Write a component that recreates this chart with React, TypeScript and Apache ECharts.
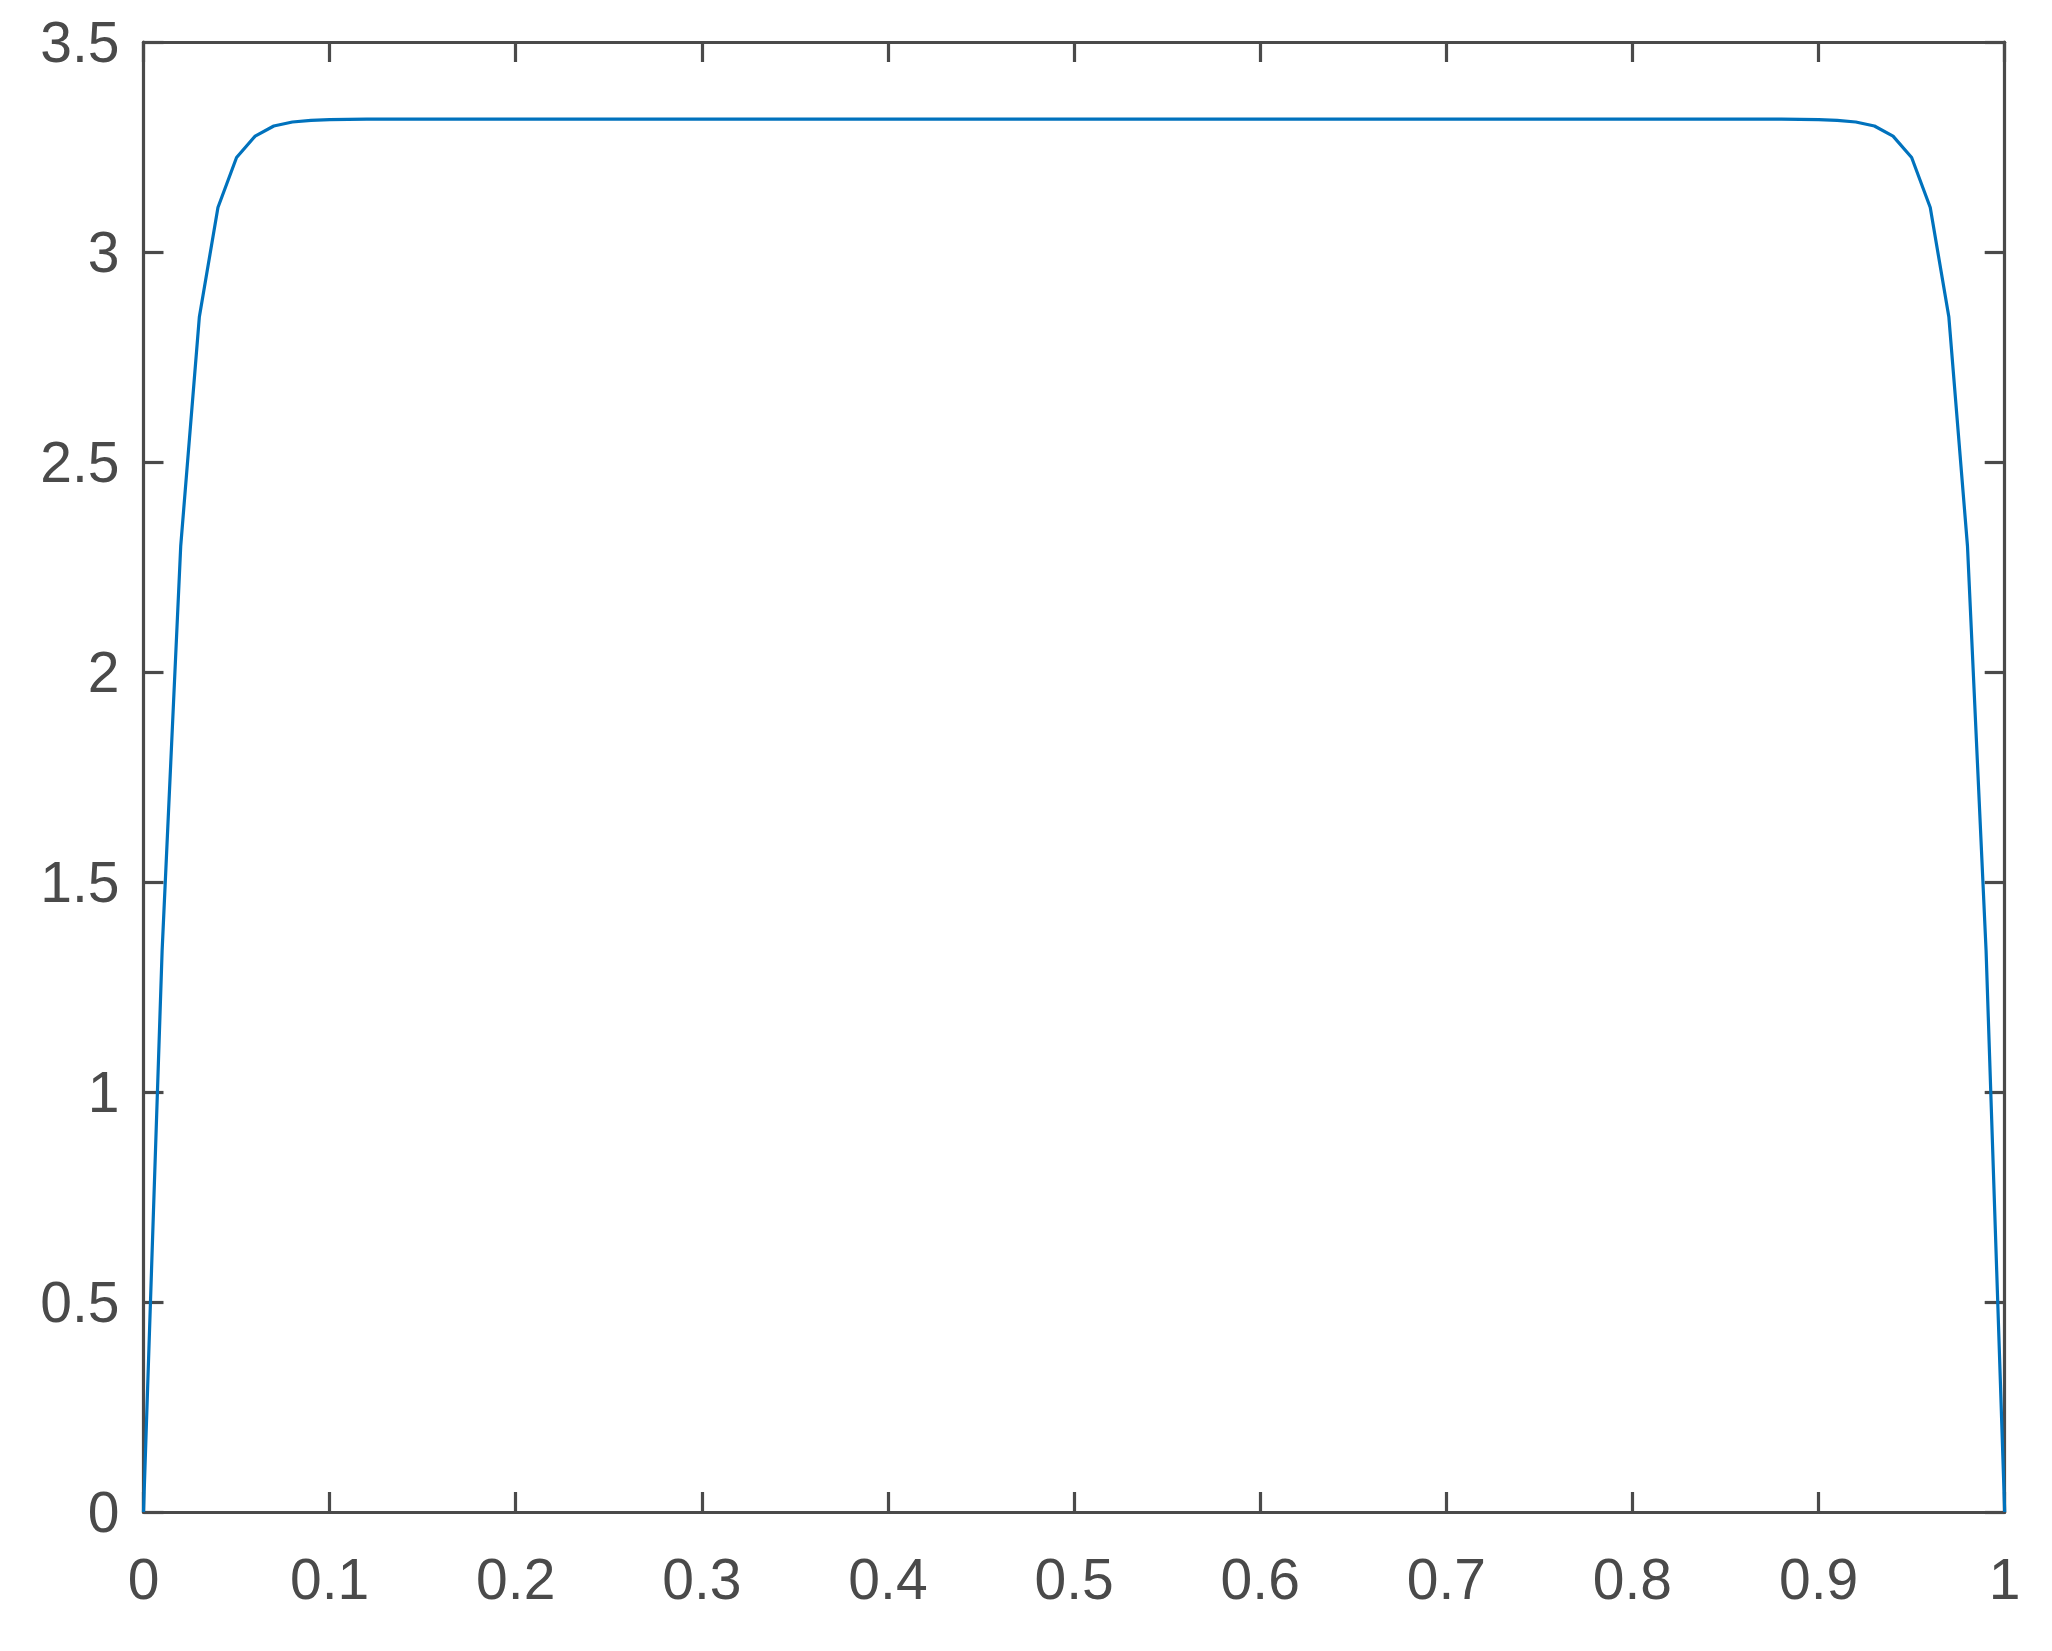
import React, { useEffect, useRef } from "react";
import * as echarts from "echarts";

const xValues: number[] = [
  0, 0.01, 0.02, 0.03, 0.04, 0.05, 0.06, 0.07, 0.08, 0.09,
  0.1, 0.11, 0.12, 0.13, 0.14, 0.15, 0.16, 0.17, 0.18, 0.19,
  0.2, 0.21, 0.22, 0.23, 0.24, 0.25, 0.26, 0.27, 0.28, 0.29,
  0.3, 0.31, 0.32, 0.33, 0.34, 0.35, 0.36, 0.37, 0.38, 0.39,
  0.4, 0.41, 0.42, 0.43, 0.44, 0.45, 0.46, 0.47, 0.48, 0.49,
  0.5, 0.51, 0.52, 0.53, 0.54, 0.55, 0.56, 0.57, 0.58, 0.59,
  0.6, 0.61, 0.62, 0.63, 0.64, 0.65, 0.66, 0.67, 0.68, 0.69,
  0.7, 0.71, 0.72, 0.73, 0.74, 0.75, 0.76, 0.77, 0.78, 0.79,
  0.8, 0.81, 0.82, 0.83, 0.84, 0.85, 0.86, 0.87, 0.88, 0.89,
  0.9, 0.91, 0.92, 0.93, 0.94, 0.95, 0.96, 0.97, 0.98, 0.99,
  1,
];

const yValues: number[] = [
  0, 1.336, 2.3, 2.845, 3.106, 3.225, 3.276, 3.3, 3.3095, 3.3136,
  3.3153, 3.316, 3.3164, 3.3165, 3.3166, 3.3166, 3.3166, 3.3166, 3.3166, 3.3166,
  3.3166, 3.3166, 3.3166, 3.3166, 3.3166, 3.3166, 3.3166, 3.3166, 3.3166, 3.3166,
  3.3166, 3.3166, 3.3166, 3.3166, 3.3166, 3.3166, 3.3166, 3.3166, 3.3166, 3.3166,
  3.3166, 3.3166, 3.3166, 3.3166, 3.3166, 3.3166, 3.3166, 3.3166, 3.3166, 3.3166,
  3.3166, 3.3166, 3.3166, 3.3166, 3.3166, 3.3166, 3.3166, 3.3166, 3.3166, 3.3166,
  3.3166, 3.3166, 3.3166, 3.3166, 3.3166, 3.3166, 3.3166, 3.3166, 3.3166, 3.3166,
  3.3166, 3.3166, 3.3166, 3.3166, 3.3166, 3.3166, 3.3166, 3.3166, 3.3166, 3.3166,
  3.3166, 3.3166, 3.3166, 3.3166, 3.3166, 3.3166, 3.3166, 3.3165, 3.3164, 3.316,
  3.3153, 3.3136, 3.3095, 3.3, 3.276, 3.225, 3.106, 2.845, 2.3, 1.336,
  0,
];

const xTickLabels = ["0", "0.1", "0.2", "0.3", "0.4", "0.5", "0.6", "0.7", "0.8", "0.9", "1"];
const yTickLabels = ["0", "0.5", "1", "1.5", "2", "2.5", "3", "3.5"];

const AXIS_COLOR = "#4a4a4a";
const FONT = "'Liberation Sans', Arial, Helvetica, sans-serif";

export default function App() {
  const ref = useRef<HTMLDivElement>(null);

  useEffect(() => {
    if (!ref.current) return;
    const chart = echarts.init(ref.current, undefined, { renderer: "svg" });
    const lineStyle = { color: AXIS_COLOR, width: 3.2 };
    const tick = { show: true, inside: true, length: 20, lineStyle: { color: AXIS_COLOR, width: 3.2 } };
    const labelStyle = { color: AXIS_COLOR, fontSize: 57, fontFamily: FONT };
    const xFmt = (v: number) => xTickLabels[Math.round(v * 10)] ?? String(v);
    const yFmt = (v: number) => yTickLabels[Math.round(v * 2)] ?? String(v);
    chart.setOption({
      animation: false,
      backgroundColor: "#ffffff",
      grid: { left: 143.5, right: 47.3, top: 42, bottom: 139, containLabel: false },
      xAxis: [
        {
          type: "value", min: 0, max: 1, interval: 0.1, position: "bottom",
          axisLine: { show: true, lineStyle, onZero: false },
          axisTick: tick,
          axisLabel: { ...labelStyle, margin: 38, formatter: xFmt },
          splitLine: { show: false },
        },
        {
          type: "value", min: 0, max: 1, interval: 0.1, position: "top",
          axisLine: { show: true, lineStyle, onZero: false },
          axisTick: tick,
          axisLabel: { show: false },
          splitLine: { show: false },
        },
      ],
      yAxis: [
        {
          type: "value", min: 0, max: 3.5, interval: 0.5, position: "left",
          axisLine: { show: true, lineStyle, onZero: false },
          axisTick: tick,
          axisLabel: { ...labelStyle, margin: 24, formatter: yFmt },
          splitLine: { show: false },
        },
        {
          type: "value", min: 0, max: 3.5, interval: 0.5, position: "right",
          axisLine: { show: true, lineStyle, onZero: false },
          axisTick: tick,
          axisLabel: { show: false },
          splitLine: { show: false },
        },
      ],
      series: [
        {
          type: "line",
          data: xValues.map((x, i) => [x, yValues[i]]),
          showSymbol: false,
          symbol: "none",
          lineStyle: { color: "#0072BD", width: 3.2 },
          clip: false,
        },
      ],
    });
    return () => chart.dispose();
  }, []);

  return (
    <div
      ref={ref}
      style={{ position: "fixed", left: 0, top: 0, width: 2052, height: 1651, background: "#fff" }}
    />
  );
}
